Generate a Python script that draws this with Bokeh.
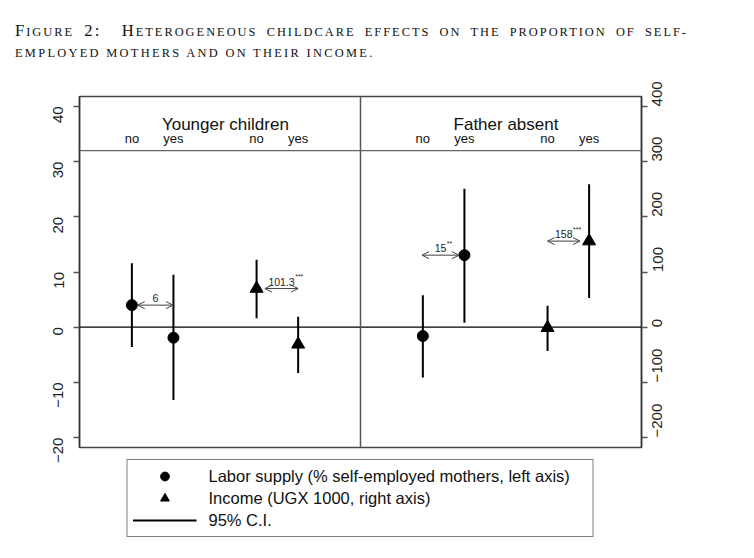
import math
from bokeh.plotting import figure
from bokeh.models import (Range1d, LinearAxis, SingleIntervalTicker, Span, Arrow, OpenHead,
                          Legend, LegendItem, Div)
from bokeh.layouts import column
from bokeh.core.properties import value
from bokeh.embed import file_html
from bokeh.resources import INLINE

# ---------------- data ----------------
panel_titles = ["Younger children", "Father absent"]
panel_title_x = [3.25, 10.0]
group_labels = ["no", "yes", "no", "yes", "no", "yes", "no", "yes"]
group_x = [1, 2, 4, 5, 8, 9, 11, 12]

# Labor supply (% self-employed mothers, left axis)
labor_x = [1, 2, 8, 9]
labor_est = [4.0, -1.9, -1.6, 13.05]
labor_lo = [-3.6, -13.2, -9.1, 0.8]
labor_hi = [11.6, 9.5, 5.8, 25.1]

# Income (UGX 1000, right axis)
income_x = [4, 5, 11, 12]
income_est = [70, -31, -1, 156]
income_lo = [16, -83, -43, 53]
income_hi = [122, 19, 39, 259]

# differences yes - no
diff_main = ["6", "101.3", "15", "158"]
diff_stars = ["", "***", "**", "***"]

left_ticks_interval = 10
right_ticks_interval = 100

legend_labels = ["Labor supply (% self-employed mothers, left axis)",
                 "Income (UGX 1000, right axis)",
                 "95% C.I."]

# ---------------- figure ----------------
FONT = "Liberation Sans"

p = figure(frame_width=562, frame_height=351,
           x_range=Range1d(-0.26, 13.26), y_range=Range1d(-21.8, 41.8),
           output_backend="svg", toolbar_location=None,
           x_axis_location=None, y_axis_location="left",
           min_border_left=79, min_border_right=40, min_border_top=26, min_border_bottom=4)
p.extra_y_ranges = {"right": Range1d(-218, 418)}
p.grid.visible = False
p.outline_line_color = "#444444"
p.outline_line_width = 1.5
p.background_fill_color = "white"
p.border_fill_color = "white"


def style_axis(ax):
    ax.major_label_orientation = math.pi / 2
    ax.major_label_text_font = FONT
    ax.major_label_text_font_size = "15px"
    ax.major_label_text_color = "#222222"
    ax.axis_line_color = "#333333"
    ax.axis_line_width = 1.5
    ax.major_tick_line_color = "#555555"
    ax.major_tick_line_width = 1.5
    ax.major_tick_out = 6
    ax.major_tick_in = 0
    ax.minor_tick_line_color = None


p.yaxis.ticker = SingleIntervalTicker(interval=left_ticks_interval, num_minor_ticks=0)
style_axis(p.yaxis[0])
p.yaxis[0].major_label_standoff = 15

raxis = LinearAxis(y_range_name="right",
                   ticker=SingleIntervalTicker(interval=right_ticks_interval, num_minor_ticks=0))
style_axis(raxis)
raxis.major_label_standoff = 10
p.add_layout(raxis, "right")

# reference lines
p.add_layout(Span(location=0, dimension="width", line_color="black", line_width=1.2))
p.add_layout(Span(location=32, dimension="width", line_color="#666666", line_width=1.3))
p.add_layout(Span(location=6.5, dimension="height", line_color="#555555", line_width=1.5))

# CIs
r_seg = p.segment(x0=labor_x, y0=labor_lo, x1=labor_x, y1=labor_hi,
                  line_color="black", line_width=2)
p.segment(x0=income_x, y0=income_lo, x1=income_x, y1=income_hi,
          line_color="black", line_width=2, y_range_name="right")

# markers
r_circ = p.scatter(labor_x, labor_est, marker="circle", size=11,
                   fill_color="black", line_color="black")
r_tri = p.scatter(income_x, income_est, marker="triangle", size=13,
                  fill_color="black", line_color="black", y_range_name="right")

# difference arrows
arrow_gap = [(0.14, 0.01), (0.2, 0.0), (-0.02, 0.13), (0.0, 0.22)]
pairs = [(labor_x, labor_est, "default", 0), (income_x, income_est, "right", 0),
         (labor_x, labor_est, "default", 2), (income_x, income_est, "right", 2)]


def approx_w(s, size):
    w = {".": 0.278, "*": 0.389}
    return sum(w.get(c, 0.556) for c in s) * size


for k, (xs, ys, rng, i) in enumerate(pairs):
    x0 = xs[i] + arrow_gap[k][0]
    x1 = xs[i + 1] - arrow_gap[k][1]
    ya = max(ys[i], ys[i + 1])
    head = dict(size=7, line_color="#404040", line_width=1)
    p.add_layout(Arrow(start=OpenHead(**head), end=OpenHead(**head),
                       x_start=x0, y_start=ya, x_end=x1, y_end=ya,
                       line_color="#404040", line_width=1, y_range_name=rng))
    xc = (x0 + x1) / 2
    p.text(x=[xc], y=[ya], text=[diff_main[k]], text_align="center",
           text_baseline="alphabetic", y_offset=-7, text_font=value(FONT),
           text_font_size="10.5px", text_color="#222222", y_range_name=rng)
    if diff_stars[k]:
        p.text(x=[xc], y=[ya], text=[diff_stars[k]], text_align="left",
               text_baseline="alphabetic", y_offset=-12,
               x_offset=approx_w(diff_main[k], 10.5) / 2 + 0.5,
               text_font=value(FONT), text_font_size="7px",
               text_color="#222222", y_range_name=rng)

# panel headers
p.text(x=panel_title_x, y=[36.8, 36.8], text=panel_titles, text_align="center",
       text_baseline="alphabetic", text_font=value(FONT), text_font_size="17px",
       text_color="#111111")
p.text(x=group_x, y=[34.1] * len(group_x), text=group_labels, text_align="center",
       text_baseline="alphabetic", text_font=value(FONT), text_font_size="13px",
       text_color="#111111")

legend = Legend(items=[
    LegendItem(label=legend_labels[0], renderers=[r_circ]),
    LegendItem(label=legend_labels[1], renderers=[r_tri]),
    LegendItem(label=legend_labels[2], renderers=[r_seg]),
], location="top_center", orientation="vertical",
    glyph_width=64, glyph_height=22, label_height=22, label_width=379,
    label_standoff=12, spacing=0, padding=5, margin=12,
    border_line_color="black", border_line_width=1,
    background_fill_color="white", background_fill_alpha=1.0,
    label_text_font=FONT, label_text_font_size="16.5px", label_text_color="#111111")
p.add_layout(legend, "below")

S = '<span style="font-size:12.4px;">'
E = '</span>'
title_html = (
    '<div style="font-family:\'Liberation Serif\',serif;font-size:16.6px;line-height:20px;'
    'color:#111;padding:21px 0 0 15px;width:688px;">'
    '<div style="text-align:justify;text-align-last:justify;letter-spacing:2px;">'
    'F' + S + 'IGURE' + E + ' 2:&nbsp; H' + S + 'ETEROGENEOUS CHILDCARE EFFECTS ON THE PROPORTION OF SELF-' + E +
    '</div>'
    '<div style="letter-spacing:2.3px;">' + S + 'EMPLOYED MOTHERS AND ON THEIR INCOME.' + E + '</div>'
    '</div>'
)
div = Div(text=title_html, width=720, height=70, margin=(0, 0, 0, 0))
p.margin = (0, 0, 0, 0)

layout = column(div, p, spacing=0)
open("out.html", "w").write(file_html(layout, INLINE))
